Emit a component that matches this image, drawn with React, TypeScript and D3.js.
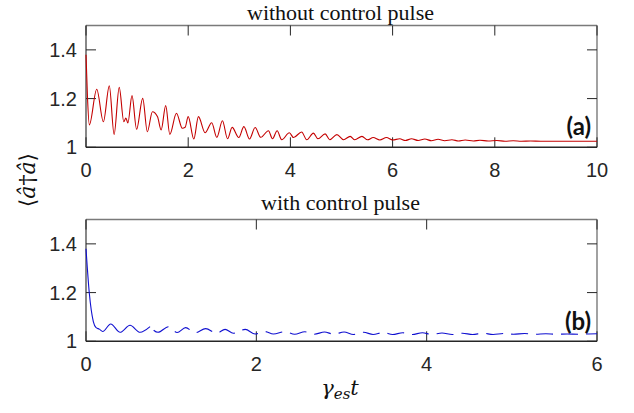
import React from "react";
import * as d3 from "d3";

// ---- data ----
const timeA = [0, 0.03, 0.065, 0.21, 0.34, 0.456, 0.55, 0.65, 0.74, 0.78, 0.82, 0.9, 0.99, 1.11, 1.2, 1.3, 1.4, 1.47, 1.56, 1.64, 1.77, 1.885, 1.94, 2.0, 2.11, 2.2, 2.33, 2.46, 2.56, 2.67, 2.77, 2.86, 2.99, 3.09, 3.2, 3.31, 3.42, 3.57, 3.65, 3.74, 3.83, 3.98, 4.06, 4.22, 4.32, 4.45, 4.54, 4.68, 4.77, 4.91, 5.04, 5.17, 5.26, 5.4, 5.51, 5.62, 5.75, 5.88, 6.0, 6.14, 6.25, 6.37, 6.5, 6.63, 6.76, 6.89, 7.02, 7.16, 7.29, 7.42, 7.58, 7.71, 7.87, 8.04, 8.2, 8.36, 8.52, 8.7, 8.9, 9.2, 9.5, 10];
const valueA = [1.38, 1.2, 1.092, 1.238, 1.105, 1.252, 1.053, 1.246, 1.105, 1.12, 1.1, 1.212, 1.074, 1.201, 1.064, 1.146, 1.125, 1.071, 1.171, 1.053, 1.14, 1.078, 1.082, 1.126, 1.034, 1.126, 1.06, 1.101, 1.041, 1.109, 1.035, 1.082, 1.04, 1.085, 1.034, 1.081, 1.041, 1.068, 1.035, 1.068, 1.031, 1.06, 1.04, 1.063, 1.031, 1.058, 1.035, 1.055, 1.031, 1.052, 1.031, 1.045, 1.031, 1.045, 1.031, 1.04, 1.03, 1.04, 1.03, 1.035, 1.028, 1.035, 1.028, 1.034, 1.027, 1.033, 1.027, 1.031, 1.026, 1.03, 1.026, 1.029, 1.026, 1.028, 1.025, 1.027, 1.025, 1.026, 1.025, 1.025, 1.025, 1.025];

const timeB = [0, 0.039, 0.086, 0.118, 0.156, 0.196, 0.29, 0.4, 0.517, 0.635, 0.752, 0.846, 0.967, 1.07, 1.17, 1.28, 1.405, 1.535, 1.633, 1.73, 1.87, 1.986, 2.1, 2.2, 2.34, 2.45, 2.57, 2.68, 2.8, 2.91, 3.03, 3.14, 3.26, 3.37, 3.49, 3.6, 3.72, 3.83, 3.95, 4.06, 4.18, 4.3, 4.42, 4.54, 4.66, 4.78, 4.9, 5.02, 5.15, 5.27, 5.4, 5.52, 5.65, 5.78, 5.9, 6.0];
const valueB = [1.38, 1.197, 1.081, 1.056, 1.05, 1.04, 1.071, 1.037, 1.066, 1.037, 1.06, 1.037, 1.06, 1.036, 1.056, 1.035, 1.052, 1.033, 1.049, 1.033, 1.049, 1.03, 1.04, 1.03, 1.04, 1.029, 1.039, 1.029, 1.038, 1.029, 1.038, 1.028, 1.037, 1.028, 1.036, 1.028, 1.035, 1.028, 1.035, 1.028, 1.034, 1.028, 1.033, 1.028, 1.033, 1.028, 1.032, 1.029, 1.032, 1.029, 1.031, 1.029, 1.03, 1.029, 1.03, 1.031];

const yTicks = [1, 1.2, 1.4];
const xTicksA = [0, 2, 4, 6, 8, 10];
const xTicksB = [0, 2, 4, 6];
const titleA = "without control pulse";
const titleB = "with control pulse";

const W = 634;
const H = 413;
const left = 86;
const right = 597;
const tickColor = "#262626";
const sans = "'Liberation Sans', Arial, sans-serif";

type Panel = {
  top: number;
  bottom: number;
  xMax: number;
  xTicks: number[];
  title: string;
  titleY: number;
  tag: string;
  tagY: number;
};

function Axes({ p, x, y }: { p: Panel; x: d3.ScaleLinear<number, number>; y: d3.ScaleLinear<number, number> }) {
  const tl = 10;
  return (
    <g>
      {/* frame */}
      <line x1={left} x2={right} y1={p.top} y2={p.top} stroke="#7a7a7a" strokeWidth={1.4} />
      <line x1={right} x2={right} y1={p.top} y2={p.bottom} stroke="#7a7a7a" strokeWidth={1.4} />
      <line x1={left} x2={left} y1={p.top} y2={p.bottom} stroke="#555" strokeWidth={1.4} />
      <line x1={left} x2={right} y1={p.bottom} y2={p.bottom} stroke="#262626" strokeWidth={1.4} />
      {p.xTicks.map((t) => (
        <g key={"x" + t}>
          <line x1={x(t)} x2={x(t)} y1={p.bottom} y2={p.bottom - tl} stroke={tickColor} strokeWidth={1} />
          <line x1={x(t)} x2={x(t)} y1={p.top} y2={p.top + tl} stroke={tickColor} strokeWidth={1} />
          <text x={x(t)} y={p.bottom + 30} textAnchor="middle" fontFamily={sans} fontSize={20} fill={tickColor}>
            {t}
          </text>
        </g>
      ))}
      {yTicks.map((v) => (
        <g key={"y" + v}>
          <line x1={left} x2={left + tl} y1={y(v)} y2={y(v)} stroke={tickColor} strokeWidth={1} />
          <line x1={right} x2={right - tl} y1={y(v)} y2={y(v)} stroke={tickColor} strokeWidth={1} />
          <text x={77} y={y(v) + 7} textAnchor="end" fontFamily={sans} fontSize={20} fill={tickColor}>
            {d3.format("~g")(v)}
          </text>
        </g>
      ))}
      <text x={(left + right) / 2 - 1} y={p.titleY} textAnchor="middle" fontFamily="'Liberation Serif', 'Times New Roman', serif" fontSize={22} fill="#111">
        {p.title}
      </text>
      <text x={591} y={p.tagY} textAnchor="end" fontFamily="Lato, 'Open Sans', sans-serif" fontWeight={700} fontSize={24} fill="#111">
        {p.tag}
      </text>
    </g>
  );
}

export default function App() {
  const pA: Panel = { top: 25.5, bottom: 147.3, xMax: 10, xTicks: xTicksA, title: titleA, titleY: 19.5, tag: "(a)", tagY: 135 };
  const pB: Panel = { top: 219.5, bottom: 341.3, xMax: 6, xTicks: xTicksB, title: titleB, titleY: 210, tag: "(b)", tagY: 330 };

  const xA = d3.scaleLinear().domain([0, pA.xMax]).range([left, right]);
  const yA = d3.scaleLinear().domain([1, 1.5]).range([pA.bottom, pA.top]);
  const xB = d3.scaleLinear().domain([0, pB.xMax]).range([left, right]);
  const yB = d3.scaleLinear().domain([1, 1.5]).range([pB.bottom, pB.top]);

  const dataA = timeA.map((t, i) => [t, valueA[i]] as [number, number]);
  const dataB = timeB.map((t, i) => [t, valueB[i]] as [number, number]);

  const lineA = d3
    .line<[number, number]>()
    .x((d) => xA(d[0]))
    .y((d) => yA(d[1]))
    .curve(d3.curveMonotoneX);
  const lineB = d3
    .line<[number, number]>()
    .x((d) => xB(d[0]))
    .y((d) => yB(d[1]))
    .curve(d3.curveMonotoneX);

  const solidB = dataB.filter((d) => d[0] <= 0.76);
  const dashedB = dataB.filter((d) => d[0] >= 0.752);

  return (
    <svg width={W} height={H} style={{ position: "absolute", left: 0, top: 0, background: "#fff" }}>
      <Axes p={pA} x={xA} y={yA} />
      <Axes p={pB} x={xB} y={yB} />
      <path d={lineA(dataA) || ""} fill="none" stroke="#c40000" strokeWidth={1.1} />
      <path d={lineB(solidB) || ""} fill="none" stroke="#1010d0" strokeWidth={1.1} />
      <path d={lineB(dashedB) || ""} fill="none" stroke="#1010d0" strokeWidth={1.1} strokeDasharray="17 8" strokeDashoffset={20} />
      {/* y label */}
      <text
        transform="translate(29,180) rotate(-90)"
        textAnchor="middle"
        dominantBaseline="middle"
        fontFamily="'DejaVu Serif', 'Liberation Serif', serif"
        fontSize={22}
        fill="#111"
      >
        {"\u27E8"}
        <tspan fontStyle="italic">{"\u00E2"}</tspan>
        {"\u2020"}
        <tspan fontStyle="italic">{"\u00E2"}</tspan>
        {"\u27E9"}
      </text>
      {/* x label */}
      <text x={340} y={395} textAnchor="middle" fontFamily="'DejaVu Serif', 'Liberation Serif', serif" fontStyle="italic" fontSize={21} fill="#111">
        {"\u03B3"}
        <tspan fontSize={15} dy={4}>es</tspan>
        <tspan dy={-4}>t</tspan>
      </text>
    </svg>
  );
}
